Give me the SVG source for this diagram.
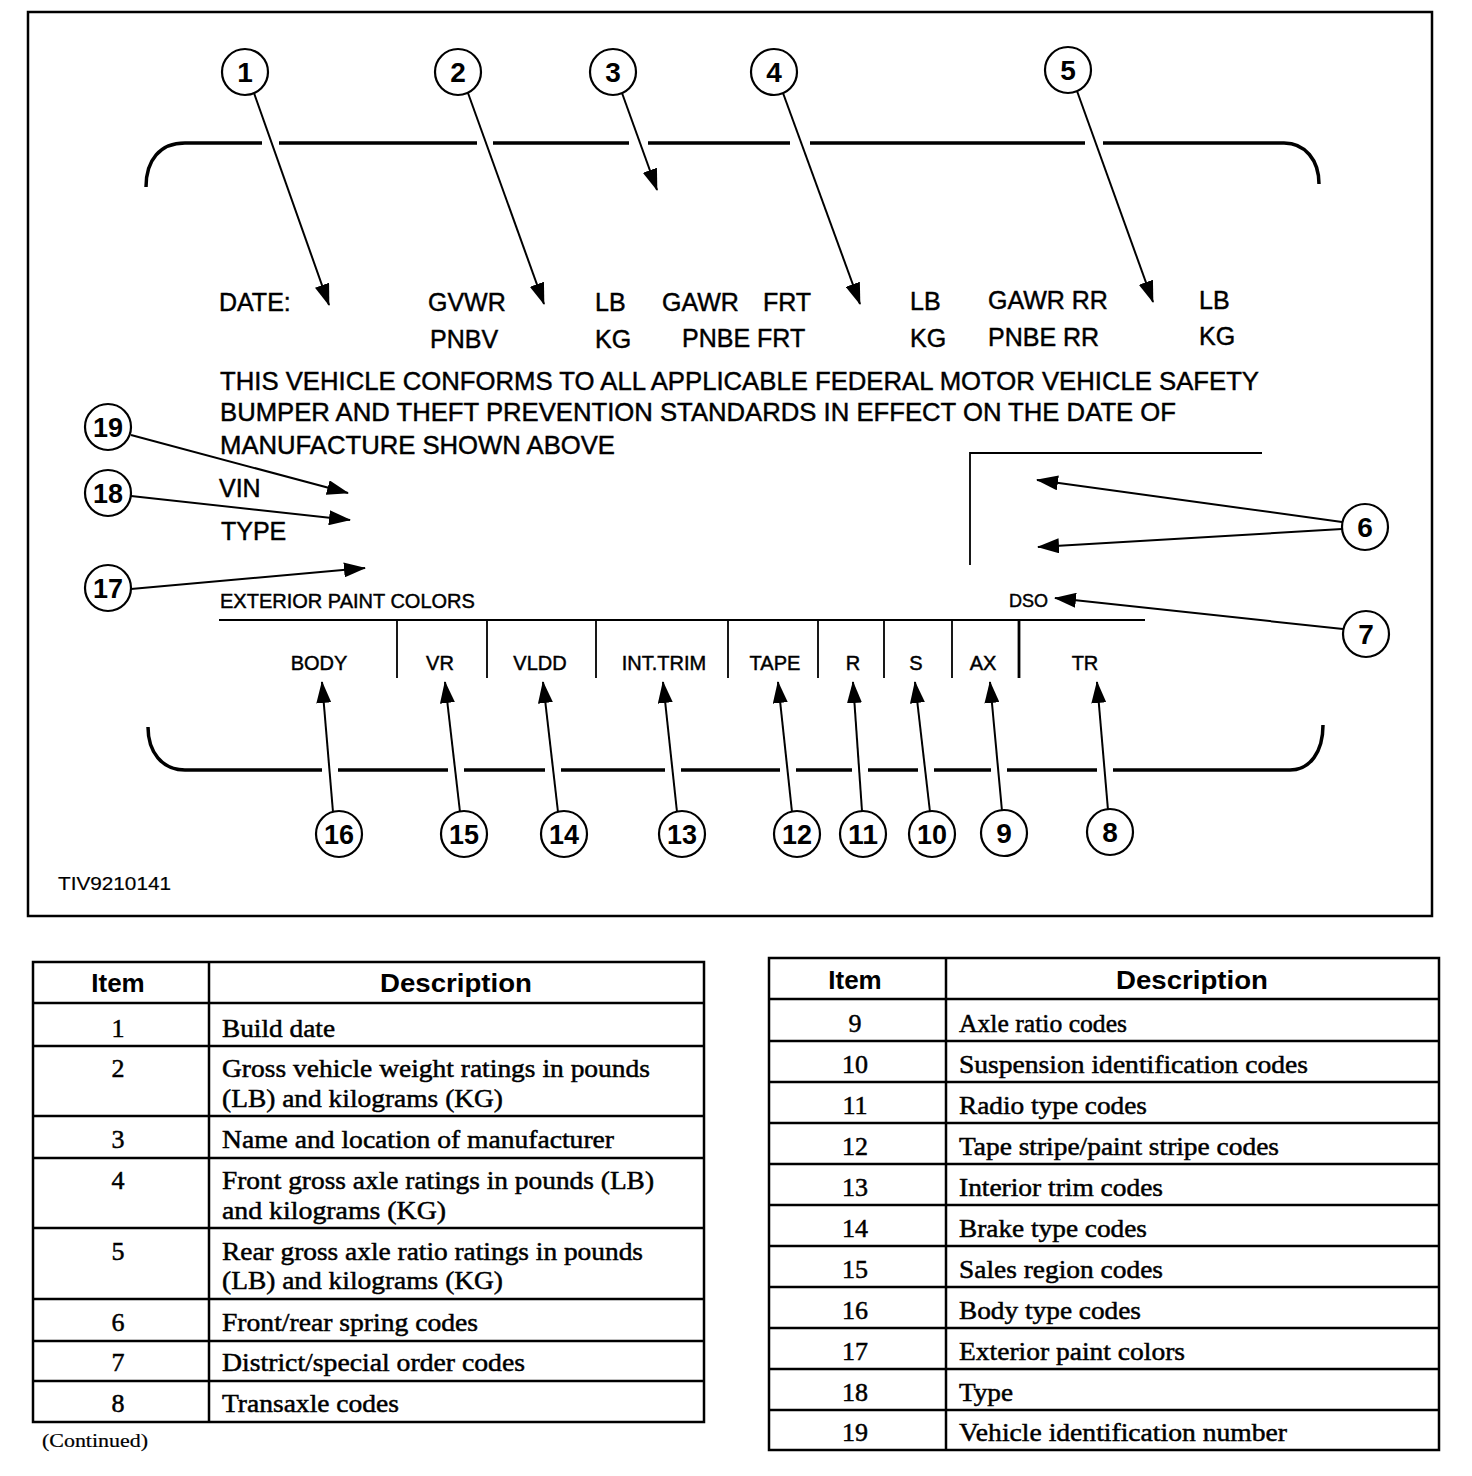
<svg xmlns="http://www.w3.org/2000/svg" width="1472" height="1476" viewBox="0 0 1472 1476">
<style>
.sans{font-family:"Liberation Sans",Arial,sans-serif;fill:#000;stroke:#000;stroke-width:0.45}
.lbl{font-size:25px}
.par{font-size:25.5px}
.sm{font-size:20px}
.num{font-family:"Liberation Sans",Arial,sans-serif;font-size:28px;font-weight:bold;text-anchor:middle}
.serif{font-family:"Liberation Serif","Times New Roman",serif;font-size:26px;fill:#000;stroke:#000;stroke-width:0.5}
.hdr{font-family:"Liberation Sans",Arial,sans-serif;font-size:26px;font-weight:bold;text-anchor:middle}
.mid{text-anchor:middle}
.ring{fill:#fff;stroke:#000;stroke-width:2.2}
.conn line{stroke:#000;stroke-width:2;marker-end:url(#ah)}
.grid{stroke:#000;stroke-width:2.5;fill:none}
</style>
<defs>
<marker id="ah" markerUnits="userSpaceOnUse" markerWidth="22" markerHeight="15" viewBox="0 0 22 15" refX="21" refY="7.5" orient="auto">
<path d="M0,0 L22,7.5 L0,15 Z" fill="#000"/>
</marker>
</defs>
<rect width="1472" height="1476" fill="#fff"/>
<!-- frame -->
<rect x="28" y="12" width="1404" height="904" fill="none" stroke="#000" stroke-width="2.5"/>
<!-- label brackets -->
<path d="M146,187 C146,160 160,143 185,143 H262 M279,143 H477 M493,143 H629 M648,143 H790 M810,143 H1085 M1103,143 H1284 C1305,143 1319,160 1319,184" fill="none" stroke="#000" stroke-width="3.5"/>
<path d="M148,727 C148,752 162,770 185,770 H322 M338,770 H448 M464,770 H545 M561,770 H665 M681,770 H780 M796,770 H852 M868,770 H918 M934,770 H991 M1007,770 H1097 M1113,770 H1290 C1310,770 1323,752 1323,725" fill="none" stroke="#000" stroke-width="3.5"/>
<!-- label texts -->
<g id="label-text" class="sans">
<text class="lbl" x="219" y="311">DATE:</text>
<text class="lbl" x="428" y="311">GVWR</text>
<text class="lbl" x="595" y="311">LB</text>
<text class="lbl" x="662" y="311">GAWR</text>
<text class="lbl" x="763" y="311">FRT</text>
<text class="lbl" x="910" y="310">LB</text>
<text class="lbl" x="988" y="309">GAWR RR</text>
<text class="lbl" x="1199" y="309">LB</text>
<text class="lbl" x="430" y="348">PNBV</text>
<text class="lbl" x="595" y="348">KG</text>
<text class="lbl" x="682" y="347">PNBE FRT</text>
<text class="lbl" x="910" y="347">KG</text>
<text class="lbl" x="988" y="346">PNBE RR</text>
<text class="lbl" x="1199" y="345">KG</text>
<text class="par" x="220" y="390" textLength="1039" lengthAdjust="spacingAndGlyphs">THIS VEHICLE CONFORMS TO ALL APPLICABLE FEDERAL MOTOR VEHICLE SAFETY</text>
<text class="par" x="220" y="421" textLength="956" lengthAdjust="spacingAndGlyphs">BUMPER AND THEFT PREVENTION STANDARDS IN EFFECT ON THE DATE OF</text>
<text class="par" x="220" y="454" textLength="395" lengthAdjust="spacingAndGlyphs">MANUFACTURE SHOWN ABOVE</text>
<text class="lbl" x="219" y="497">VIN</text>
<text class="lbl" x="221" y="540">TYPE</text>
<text class="sm" x="220" y="608">EXTERIOR PAINT COLORS</text>
<text x="1009" y="607" style="font-size:18px">DSO</text>
<text class="sm mid" x="319" y="670">BODY</text>
<text class="sm mid" x="440" y="670">VR</text>
<text class="sm mid" x="540" y="670">VLDD</text>
<text class="sm mid" x="664" y="670">INT.TRIM</text>
<text class="sm mid" x="775" y="670">TAPE</text>
<text class="sm mid" x="853" y="670">R</text>
<text class="sm mid" x="916" y="670">S</text>
<text class="sm mid" x="983" y="670">AX</text>
<text class="sm mid" x="1085" y="670">TR</text>
<text x="58" y="890" style="font-size:19px;stroke-width:0.2" textLength="113" lengthAdjust="spacingAndGlyphs">TIV9210141</text>
</g>
<!-- label rules -->
<g id="label-rules" stroke="#000" fill="none">
<line x1="219" y1="620" x2="1145" y2="620" stroke-width="2"/>
<path d="M397,620 V678 M487,620 V678 M596,620 V678 M728,620 V678 M818,620 V678 M884,620 V678 M952,620 V678" stroke-width="1.8"/>
<line x1="1019" y1="620" x2="1019" y2="678" stroke-width="2.8"/>
<polyline points="1262,453 970,453 970,565" stroke-width="1.8"/>
</g>
<!-- connectors -->
<g id="connectors" class="conn">
<line x1="254" y1="93" x2="329" y2="305"/>
<line x1="468" y1="93" x2="544" y2="304"/>
<line x1="622" y1="93" x2="657" y2="190"/>
<line x1="783" y1="93" x2="860" y2="304"/>
<line x1="1077" y1="91" x2="1153" y2="302"/>
<line x1="1342" y1="522" x2="1037" y2="480"/>
<line x1="1342" y1="529" x2="1038" y2="547"/>
<line x1="1343" y1="629" x2="1055" y2="598"/>
<line x1="1108" y1="810" x2="1097" y2="682"/>
<line x1="1002" y1="811" x2="990" y2="682"/>
<line x1="930" y1="812" x2="915" y2="682"/>
<line x1="862" y1="811" x2="853" y2="682"/>
<line x1="792" y1="812" x2="778" y2="682"/>
<line x1="677" y1="812" x2="663" y2="682"/>
<line x1="558" y1="812" x2="543" y2="682"/>
<line x1="460" y1="812" x2="445" y2="682"/>
<line x1="333" y1="812" x2="322" y2="682"/>
<line x1="131" y1="589" x2="365" y2="568"/>
<line x1="131" y1="496" x2="350" y2="520"/>
<line x1="131" y1="435" x2="348" y2="493"/>
</g>
<!-- callout nodes -->
<g id="n1"><circle class="ring" cx="245" cy="72" r="23"/><text class="num" x="245" y="82">1</text></g>
<g id="n2"><circle class="ring" cx="458" cy="72" r="23"/><text class="num" x="458" y="82">2</text></g>
<g id="n3"><circle class="ring" cx="613" cy="72" r="23"/><text class="num" x="613" y="82">3</text></g>
<g id="n4"><circle class="ring" cx="774" cy="72" r="23"/><text class="num" x="774" y="82">4</text></g>
<g id="n5"><circle class="ring" cx="1068" cy="70" r="23"/><text class="num" x="1068" y="80">5</text></g>
<g id="n6"><circle class="ring" cx="1365" cy="527" r="23"/><text class="num" x="1365" y="537">6</text></g>
<g id="n7"><circle class="ring" cx="1366" cy="634" r="23"/><text class="num" x="1366" y="644">7</text></g>
<g id="n8"><circle class="ring" cx="1110" cy="832" r="23"/><text class="num" x="1110" y="842">8</text></g>
<g id="n9"><circle class="ring" cx="1004" cy="833" r="23"/><text class="num" x="1004" y="843">9</text></g>
<g id="n10"><circle class="ring" cx="932" cy="834" r="23"/><text class="num" x="932" y="844" textLength="30" lengthAdjust="spacingAndGlyphs">10</text></g>
<g id="n11"><circle class="ring" cx="863" cy="834" r="23"/><text class="num" x="863" y="844" textLength="30" lengthAdjust="spacingAndGlyphs">11</text></g>
<g id="n12"><circle class="ring" cx="797" cy="834" r="23"/><text class="num" x="797" y="844" textLength="30" lengthAdjust="spacingAndGlyphs">12</text></g>
<g id="n13"><circle class="ring" cx="682" cy="834" r="23"/><text class="num" x="682" y="844" textLength="30" lengthAdjust="spacingAndGlyphs">13</text></g>
<g id="n14"><circle class="ring" cx="564" cy="834" r="23"/><text class="num" x="564" y="844" textLength="30" lengthAdjust="spacingAndGlyphs">14</text></g>
<g id="n15"><circle class="ring" cx="464" cy="834" r="23"/><text class="num" x="464" y="844" textLength="30" lengthAdjust="spacingAndGlyphs">15</text></g>
<g id="n16"><circle class="ring" cx="339" cy="834" r="23"/><text class="num" x="339" y="844" textLength="30" lengthAdjust="spacingAndGlyphs">16</text></g>
<g id="n17"><circle class="ring" cx="108" cy="588" r="23"/><text class="num" x="108" y="598" textLength="30" lengthAdjust="spacingAndGlyphs">17</text></g>
<g id="n18"><circle class="ring" cx="108" cy="493" r="23"/><text class="num" x="108" y="503" textLength="30" lengthAdjust="spacingAndGlyphs">18</text></g>
<g id="n19"><circle class="ring" cx="108" cy="427" r="23"/><text class="num" x="108" y="437" textLength="30" lengthAdjust="spacingAndGlyphs">19</text></g>
<!-- left table -->
<g id="table-left">
<path class="grid" d="M33,962 H704 V1422 H33 Z M209,962 V1422 M33,1003 H704 M33,1046 H704 M33,1116 H704 M33,1158 H704 M33,1228 H704 M33,1299 H704 M33,1341 H704 M33,1381 H704"/>
<text class="hdr" x="118" y="992">Item</text>
<text class="hdr" x="456" y="992" textLength="152" lengthAdjust="spacingAndGlyphs">Description</text>
<g class="serif">
<text class="mid" x="118" y="1037">1</text>
<text x="222" y="1037" textLength="113" lengthAdjust="spacingAndGlyphs">Build date</text>
<text class="mid" x="118" y="1077">2</text>
<text x="222" y="1077" textLength="428" lengthAdjust="spacingAndGlyphs">Gross vehicle weight ratings in pounds</text>
<text x="222" y="1107" textLength="281" lengthAdjust="spacingAndGlyphs">(LB) and kilograms (KG)</text>
<text class="mid" x="118" y="1148">3</text>
<text x="222" y="1148" textLength="392" lengthAdjust="spacingAndGlyphs">Name and location of manufacturer</text>
<text class="mid" x="118" y="1189">4</text>
<text x="222" y="1189" textLength="432" lengthAdjust="spacingAndGlyphs">Front gross axle ratings in pounds (LB)</text>
<text x="222" y="1219" textLength="224" lengthAdjust="spacingAndGlyphs">and kilograms (KG)</text>
<text class="mid" x="118" y="1260">5</text>
<text x="222" y="1260" textLength="421" lengthAdjust="spacingAndGlyphs">Rear gross axle ratio ratings in pounds</text>
<text x="222" y="1289" textLength="281" lengthAdjust="spacingAndGlyphs">(LB) and kilograms (KG)</text>
<text class="mid" x="118" y="1331">6</text>
<text x="222" y="1331" textLength="256" lengthAdjust="spacingAndGlyphs">Front/rear spring codes</text>
<text class="mid" x="118" y="1371">7</text>
<text x="222" y="1371" textLength="303" lengthAdjust="spacingAndGlyphs">District/special order codes</text>
<text class="mid" x="118" y="1412">8</text>
<text x="222" y="1412" textLength="177" lengthAdjust="spacingAndGlyphs">Transaxle codes</text>
<text x="42" y="1447" style="font-size:19px;stroke-width:0.2" textLength="106" lengthAdjust="spacingAndGlyphs">(Continued)</text>
</g>
</g>
<!-- right table -->
<g id="table-right">
<path class="grid" d="M769,958 H1439 V1450 H769 Z M946,958 V1450 M769,999 H1439 M769,1041 H1439 M769,1082 H1439 M769,1123 H1439 M769,1164 H1439 M769,1205 H1439 M769,1246 H1439 M769,1287 H1439 M769,1328 H1439 M769,1369 H1439 M769,1410 H1439"/>
<text class="hdr" x="855" y="989">Item</text>
<text class="hdr" x="1192" y="989" textLength="152" lengthAdjust="spacingAndGlyphs">Description</text>
<g class="serif">
<text class="mid" x="855" y="1032">9</text>
<text x="959" y="1032" textLength="168" lengthAdjust="spacingAndGlyphs">Axle ratio codes</text>
<text class="mid" x="855" y="1073">10</text>
<text x="959" y="1073" textLength="349" lengthAdjust="spacingAndGlyphs">Suspension identification codes</text>
<text class="mid" x="855" y="1114">11</text>
<text x="959" y="1114" textLength="188" lengthAdjust="spacingAndGlyphs">Radio type codes</text>
<text class="mid" x="855" y="1155">12</text>
<text x="959" y="1155" textLength="320" lengthAdjust="spacingAndGlyphs">Tape stripe/paint stripe codes</text>
<text class="mid" x="855" y="1196">13</text>
<text x="959" y="1196" textLength="204" lengthAdjust="spacingAndGlyphs">Interior trim codes</text>
<text class="mid" x="855" y="1237">14</text>
<text x="959" y="1237" textLength="188" lengthAdjust="spacingAndGlyphs">Brake type codes</text>
<text class="mid" x="855" y="1278">15</text>
<text x="959" y="1278" textLength="204" lengthAdjust="spacingAndGlyphs">Sales region codes</text>
<text class="mid" x="855" y="1319">16</text>
<text x="959" y="1319" textLength="182" lengthAdjust="spacingAndGlyphs">Body type codes</text>
<text class="mid" x="855" y="1360">17</text>
<text x="959" y="1360" textLength="226" lengthAdjust="spacingAndGlyphs">Exterior paint colors</text>
<text class="mid" x="855" y="1401">18</text>
<text x="959" y="1401" textLength="54" lengthAdjust="spacingAndGlyphs">Type</text>
<text class="mid" x="855" y="1441">19</text>
<text x="959" y="1441" textLength="328" lengthAdjust="spacingAndGlyphs">Vehicle identification number</text>
</g>
</g>
</svg>
